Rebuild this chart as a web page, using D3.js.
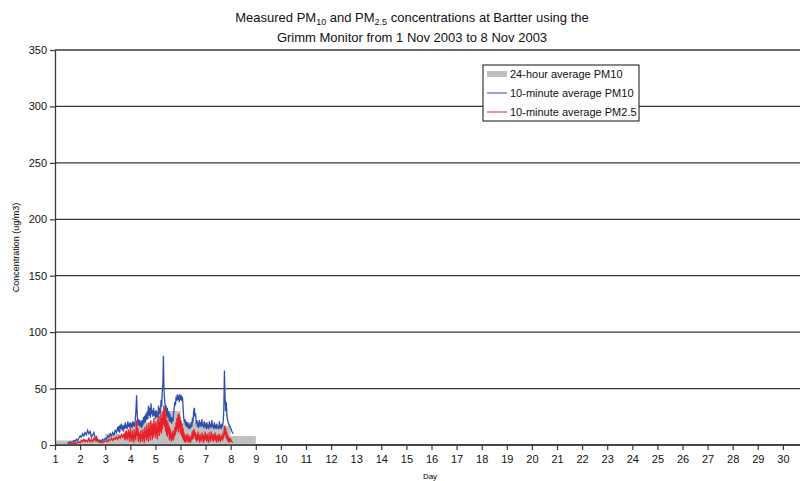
<!DOCTYPE html>
<html>
<head>
<meta charset="utf-8">
<script src="https://cdn.jsdelivr.net/npm/d3@7"></script>
<style>
  body { margin: 0; background: white; }
  text { font-family: "Liberation Sans", Arial, sans-serif; }
</style>
</head>
<body>
<div id="canvas"></div>
<script>
// Data
var dayTicks = d3.range(1, 31);
var yTicks = [0, 50, 100, 150, 200, 250, 300, 350];

// 24-hour average PM10, one bar per day (start day, value)
var avgDays = [1, 2, 3, 4, 5, 6, 7, 8];
var avgPM10 = [4, 5, 10, 20, 30, 20, 17, 8];

// 10-minute average PM10 [day, value]
var pm10 = [
  [1.50,2],[1.55,2],[1.60,3],[1.65,2],[1.70,3],[1.75,4],[1.80,3],[1.85,5],[1.90,4],[1.95,6],
  [2.00,8],[2.05,7],[2.10,10],[2.15,8],[2.20,11],[2.25,9],[2.30,13],[2.35,10],[2.40,12],[2.45,7],
  [2.50,9],[2.55,11],[2.60,6],[2.65,4],[2.70,5],[2.75,3],[2.80,4],[2.85,3],[2.90,5],[2.95,4],
  [3.00,6],[3.05,5],[3.10,8],[3.15,7],[3.20,10],[3.25,8],[3.30,11],[3.35,9],[3.40,13],[3.45,11],
  [3.500,16],[3.525,12],[3.550,17],[3.575,11],[3.600,18],[3.625,14],[3.650,19],[3.675,13],[3.700,17],[3.725,12],
  [3.750,18],[3.775,14],[3.800,20],[3.825,15],[3.850,18],[3.875,14],[3.900,21],[3.925,16],[3.950,19],[3.975,15],
  [4.000,20],[4.025,16],[4.050,19],[4.075,15],[4.100,21],[4.125,17],[4.150,20],[4.175,16],[4.200,23],[4.225,30],
  [4.250,44],[4.275,28],[4.300,18],[4.325,23],[4.350,17],[4.375,22],[4.400,16],[4.425,21],[4.450,15],[4.475,22],
  [4.500,17],[4.525,25],[4.550,19],[4.575,26],[4.600,20],[4.625,28],[4.650,22],[4.675,30],[4.700,23],[4.725,35],
  [4.750,26],[4.775,33],[4.800,24],[4.825,37],[4.850,27],[4.875,31],[4.900,25],[4.925,33],[4.950,26],[4.975,30],
  [5.000,23],[5.025,31],[5.050,25],[5.075,29],[5.100,24],[5.125,35],[5.150,27],[5.175,33],[5.200,28],[5.225,40],
  [5.250,34],[5.275,48],[5.300,56],[5.320,79],[5.340,50],[5.360,42],[5.380,37],[5.400,30],[5.425,35],[5.450,26],
  [5.475,33],[5.500,24],[5.525,30],[5.550,21],[5.575,28],[5.600,20],[5.625,25],[5.650,19],[5.675,24],[5.700,21],
  [5.725,28],[5.750,33],[5.775,38],[5.800,35],[5.825,43],[5.850,39],[5.875,45],[5.900,40],[5.925,44],[5.950,38],
  [5.975,45],[6.000,40],[6.025,44],[6.050,39],[6.075,43],[6.100,35],[6.125,25],[6.150,20],[6.175,23],[6.200,17],
  [6.225,21],[6.250,16],[6.275,20],[6.300,15],[6.325,19],[6.350,14],[6.375,18],[6.400,15],[6.425,20],[6.450,16],
  [6.475,24],[6.500,20],[6.525,30],[6.550,33],[6.575,25],[6.600,28],[6.625,19],[6.650,22],[6.675,16],[6.700,20],
  [6.725,15],[6.750,22],[6.775,17],[6.800,20],[6.825,16],[6.850,23],[6.875,17],[6.900,19],[6.925,15],[6.950,21],
  [6.975,16],[7.000,19],[7.025,14],[7.050,20],[7.075,15],[7.100,18],[7.125,14],[7.150,21],[7.175,16],[7.200,19],
  [7.225,15],[7.250,22],[7.275,16],[7.300,18],[7.325,14],[7.350,20],[7.375,15],[7.400,18],[7.425,14],[7.450,19],
  [7.475,15],[7.500,17],[7.525,14],[7.550,21],[7.575,15],[7.600,18],[7.625,14],[7.650,19],[7.675,16],[7.700,21],
  [7.725,30],[7.750,66],[7.775,42],[7.800,30],[7.825,38],[7.850,26],[7.875,22],[7.900,20],[7.950,17],[8.000,15],
  [8.050,12],[8.100,10]
];

// 10-minute average PM2.5 [day, value]
var pm25 = [
  [1.50,1],[1.55,1],[1.60,1],[1.65,2],[1.70,1],[1.75,2],[1.80,1],[1.85,2],[1.90,2],[1.95,3],
  [2.00,2],[2.05,4],[2.10,3],[2.15,5],[2.20,3],[2.25,4],[2.30,3],[2.35,6],[2.40,3],[2.45,5],
  [2.50,3],[2.55,6],[2.60,4],[2.65,8],[2.70,3],[2.75,4],[2.80,2],[2.85,3],[2.90,2],[2.95,3],
  [3.00,3],[3.05,4],[3.10,3],[3.15,5],[3.20,4],[3.25,6],[3.30,4],[3.35,6],[3.40,5],[3.45,7],
  [3.50,5],[3.55,8],[3.60,6],[3.65,9],[3.70,7],[3.75,10],[3.78,4],[3.80,12],[3.82,5],[3.84,13],
  [3.86,6],[3.88,11],[3.90,4],[3.92,14],[3.94,7],[3.96,12],[3.98,3],[4.00,15],[4.02,6],[4.04,10],
  [4.06,3],[4.08,13],[4.10,5],[4.12,9],[4.14,2],[4.16,14],[4.18,6],[4.20,11],[4.22,4],[4.24,18],
  [4.26,22],[4.28,8],[4.30,15],[4.32,3],[4.34,12],[4.36,5],[4.38,10],[4.40,2],[4.42,13],[4.44,6],
  [4.46,9],[4.48,3],[4.50,14],[4.52,5],[4.54,11],[4.56,2],[4.58,16],[4.60,7],[4.62,12],[4.64,4],
  [4.66,18],[4.68,6],[4.70,14],[4.72,3],[4.74,20],[4.76,8],[4.78,15],[4.80,4],[4.82,22],[4.84,9],
  [4.86,17],[4.88,5],[4.90,19],[4.92,7],[4.94,24],[4.96,10],[4.98,18],[5.00,6],[5.02,21],[5.04,9],
  [5.06,16],[5.08,5],[5.10,23],[5.12,11],[5.14,26],[5.16,8],[5.18,20],[5.20,12],[5.22,28],[5.24,10],
  [5.26,24],[5.28,14],[5.30,30],[5.32,18],[5.34,35],[5.36,16],[5.38,33],[5.40,12],[5.42,27],[5.44,9],
  [5.46,22],[5.48,7],[5.50,20],[5.52,10],[5.54,17],[5.56,4],[5.58,15],[5.60,6],[5.62,12],[5.64,3],
  [5.66,10],[5.68,5],[5.70,13],[5.72,4],[5.74,11],[5.76,7],[5.78,16],[5.80,9],[5.82,20],[5.84,12],
  [5.86,24],[5.88,14],[5.90,27],[5.92,11],[5.94,28],[5.96,15],[5.98,25],[6.00,10],[6.02,22],[6.04,8],
  [6.06,19],[6.08,6],[6.10,15],[6.12,4],[6.14,11],[6.16,3],[6.18,9],[6.20,2],[6.22,8],[6.24,3],
  [6.26,10],[6.28,4],[6.30,7],[6.32,2],[6.34,9],[6.36,3],[6.38,6],[6.40,2],[6.42,8],[6.44,4],
  [6.46,11],[6.48,5],[6.50,13],[6.52,6],[6.54,14],[6.56,8],[6.58,12],[6.60,5],[6.62,10],[6.64,3],
  [6.66,9],[6.68,4],[6.70,12],[6.72,5],[6.74,8],[6.76,2],[6.78,10],[6.80,4],[6.82,7],[6.84,3],
  [6.86,11],[6.88,5],[6.90,9],[6.92,2],[6.94,8],[6.96,4],[6.98,12],[7.00,5],[7.02,9],[7.04,3],
  [7.06,10],[7.08,4],[7.10,7],[7.12,2],[7.14,11],[7.16,5],[7.18,8],[7.20,3],[7.22,12],[7.24,6],
  [7.26,9],[7.28,4],[7.30,10],[7.32,3],[7.34,8],[7.36,5],[7.38,11],[7.40,4],[7.42,7],[7.44,2],
  [7.46,9],[7.48,5],[7.50,8],[7.52,3],[7.54,10],[7.56,4],[7.58,7],[7.60,3],[7.62,9],[7.64,5],
  [7.66,8],[7.68,4],[7.70,11],[7.72,6],[7.74,14],[7.76,17],[7.78,9],[7.80,15],[7.82,6],[7.84,12],
  [7.86,4],[7.88,9],[7.90,3],[7.92,7],[7.94,2],[7.96,6],[7.98,3],[8.00,5],[8.04,3],[8.08,2]
];

var legendItems = [
  {label: "24-hour average PM10", color: "#c0c0c0", width: 6},
  {label: "10-minute average PM10", color: "#3050a8", width: 1},
  {label: "10-minute average PM2.5", color: "#e8202a", width: 1}
];

// Dimensions
var w = 800;
var h = 481;
var margin = {top: 50, right: 0, bottom: 36, left: 55};

var svg = d3.select("#canvas")
    .append("svg")
    .attr("width", w)
    .attr("height", h)
    .style("background-color", "white");

// Scales: day 1 at the axis, the plot runs off the right edge
var x_scale = d3.scaleLinear()
    .domain([1, 31])
    .range([margin.left, margin.left + 30 * 25.1]);

var y_scale = d3.scaleLinear()
    .domain([0, 350])
    .range([h - margin.bottom, margin.top]);

// Gridlines
svg.append("g")
    .selectAll("line")
    .data(yTicks)
    .join("line")
    .attr("x1", margin.left)
    .attr("x2", w)
    .attr("y1", d => y_scale(d))
    .attr("y2", d => y_scale(d))
    .attr("stroke", "#3a3a3a")
    .attr("stroke-width", 1.3);

// 24-hour average bars
svg.append("g")
    .selectAll("rect")
    .data(avgDays)
    .join("rect")
    .attr("x", d => x_scale(d))
    .attr("width", d => x_scale(d + 1) - x_scale(d))
    .attr("y", (d, i) => y_scale(avgPM10[i]))
    .attr("height", (d, i) => y_scale(0) - y_scale(avgPM10[i]))
    .attr("fill", "#c0c0c0");

var line = d3.line()
    .x(d => x_scale(d[0]))
    .y(d => y_scale(d[1]));

svg.append("path")
    .datum(pm10)
    .attr("d", line)
    .attr("fill", "none")
    .attr("stroke", "#3050a8")
    .attr("stroke-width", 1.3);

svg.append("path")
    .datum(pm25)
    .attr("d", line)
    .attr("fill", "none")
    .attr("stroke", "#e8202a")
    .attr("stroke-width", 1.3);

// Axes
var xAxis = svg.append("g")
    .attr("transform", `translate(0,${y_scale(0)})`)
    .call(d3.axisBottom(x_scale).tickValues(dayTicks).tickSize(5).tickSizeOuter(0).tickFormat(d3.format("d")));

var yAxis = svg.append("g")
    .attr("transform", `translate(${margin.left},0)`)
    .call(d3.axisLeft(y_scale).tickValues(yTicks).tickSize(5).tickSizeOuter(0));

[xAxis, yAxis].forEach(function(g) {
    g.select(".domain").attr("stroke", "#3a3a3a").attr("stroke-width", 1.3);
    g.selectAll(".tick line").attr("stroke", "#3a3a3a").attr("stroke-width", 1.2);
    g.selectAll(".tick text")
        .attr("fill", "#111")
        .style("font-size", "11px")
        .style("font-family", "Liberation Sans, Arial, sans-serif");
});
xAxis.select(".domain").attr("d", `M${margin.left},0H${w}`);
xAxis.selectAll(".tick text").attr("dy", "0.95em");
yAxis.selectAll(".tick text").attr("x", -8);

// Axis titles
svg.append("text")
    .attr("x", 430)
    .attr("y", 479)
    .attr("text-anchor", "middle")
    .style("font-size", "8px")
    .text("Day");

svg.append("text")
    .attr("transform", `translate(19,${y_scale(175)}) rotate(-90)`)
    .attr("text-anchor", "middle")
    .style("font-size", "9px")
    .text("Concentration (ug/m3)");

// Title with subscripts
var title = svg.append("text")
    .attr("x", 412)
    .attr("y", 22)
    .attr("text-anchor", "middle")
    .style("font-size", "13px")
    .attr("fill", "#111");
title.append("tspan").text("Measured PM");
title.append("tspan").attr("dy", 3).style("font-size", "9px").text("10");
title.append("tspan").attr("dy", -3).text(" and PM");
title.append("tspan").attr("dy", 3).style("font-size", "9px").text("2.5");
title.append("tspan").attr("dy", -3).text(" concentrations at Bartter using the");

svg.append("text")
    .attr("x", 412)
    .attr("y", 42)
    .attr("text-anchor", "middle")
    .style("font-size", "13px")
    .attr("fill", "#111")
    .text("Grimm Monitor from 1 Nov 2003 to 8 Nov 2003");

// Legend
var legend = svg.append("g")
    .attr("transform", "translate(483,65)");

legend.append("rect")
    .attr("width", 156)
    .attr("height", 56)
    .attr("fill", "white")
    .attr("stroke", "#111")
    .attr("stroke-width", 1);

var rows = legend.selectAll("g.item")
    .data(legendItems)
    .join("g")
    .attr("class", "item")
    .attr("transform", (d, i) => `translate(0,${9 + i * 19})`);

rows.append("line")
    .attr("x1", 4)
    .attr("x2", 24)
    .attr("stroke", d => d.color)
    .attr("stroke-width", d => d.width);

rows.append("text")
    .attr("x", 27)
    .attr("dy", "0.35em")
    .style("font-size", "11px")
    .attr("fill", "#111")
    .text(d => d.label);
</script>
</body>
</html>
